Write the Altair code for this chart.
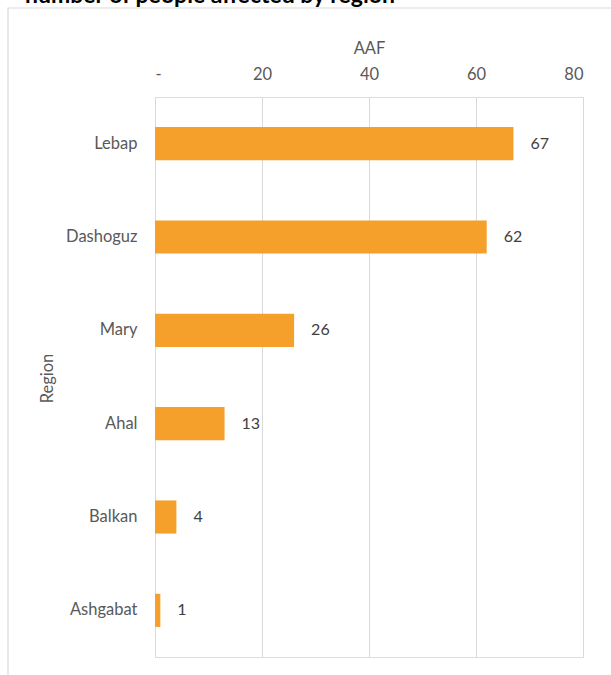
import altair as alt
import pandas as pd

regions = ["Lebap", "Dashoguz", "Mary", "Ahal", "Balkan", "Ashgabat"]
aaf = [67, 62, 26, 13, 4, 1]
title_text = "number of people affected by region"

df = pd.DataFrame({"Region": regions, "AAF": aaf})

FONT = "Lato"
GRAY = "#595959"
FS = 16.5

x_enc = alt.X(
    "AAF:Q",
    scale=alt.Scale(domain=[0, 80], nice=False),
    axis=alt.Axis(
        orient="top", values=[0, 20, 40, 60, 80], domain=False, ticks=False,
        grid=True, gridColor="#d9d9d9", gridWidth=1,
        labelExpr="datum.value == 0 ? '-' : datum.label",
        labelFont=FONT, labelFontSize=FS, labelColor=GRAY, labelPadding=15,
        title="AAF", titleFont=FONT, titleFontSize=FS, titleColor=GRAY,
        titleFontWeight="normal", titlePadding=10,
    ),
)
y_enc = alt.Y(
    "Region:N", sort=regions,
    scale=alt.Scale(paddingInner=0.645, paddingOuter=0.3225),
    axis=alt.Axis(
        domain=False, ticks=False, grid=False,
        labelFont=FONT, labelFontSize=FS, labelColor=GRAY, labelPadding=18,
        title="Region", titleFont=FONT, titleFontSize=FS, titleColor=GRAY,
        titleFontWeight="normal", titleX=-100, titleY=281, titleBaseline="bottom",
        titleAlign="center", titleAngle=270,
    ),
)

frame = alt.Chart(pd.DataFrame({"a": [0]})).mark_rect(
    fill=None, stroke="#d9d9d9", strokeWidth=1.2
).encode(
    x=alt.value(-147), x2=alt.value(470), y=alt.value(-89), y2=alt.value(600)
)

title = alt.Chart(pd.DataFrame({"t": [title_text]})).mark_text(
    align="left", baseline="alphabetic", font=FONT, fontSize=23,
    fontWeight="bold", color="#000000"
).encode(x=alt.value(-130), y=alt.value(-94), text="t:N")

bars = alt.Chart(df).mark_bar(color="#F5A02A").encode(x=x_enc, y=y_enc)
labels = alt.Chart(df).mark_text(
    align="left", baseline="middle", dx=17, font=FONT, fontSize=16, color="#404040"
).encode(x="AAF:Q", y=alt.Y("Region:N", sort=regions), text="AAF:Q")

chart = alt.layer(frame, title, bars, labels).properties(
    width=428, height=560,
    autosize=alt.AutoSizeParams(type="none"),
    padding={"left": 155, "top": 97, "right": 28, "bottom": 18},
).configure_view(stroke=None).configure(background="white")

chart.save("out.html", embed_options={"renderer": "svg", "actions": False})
